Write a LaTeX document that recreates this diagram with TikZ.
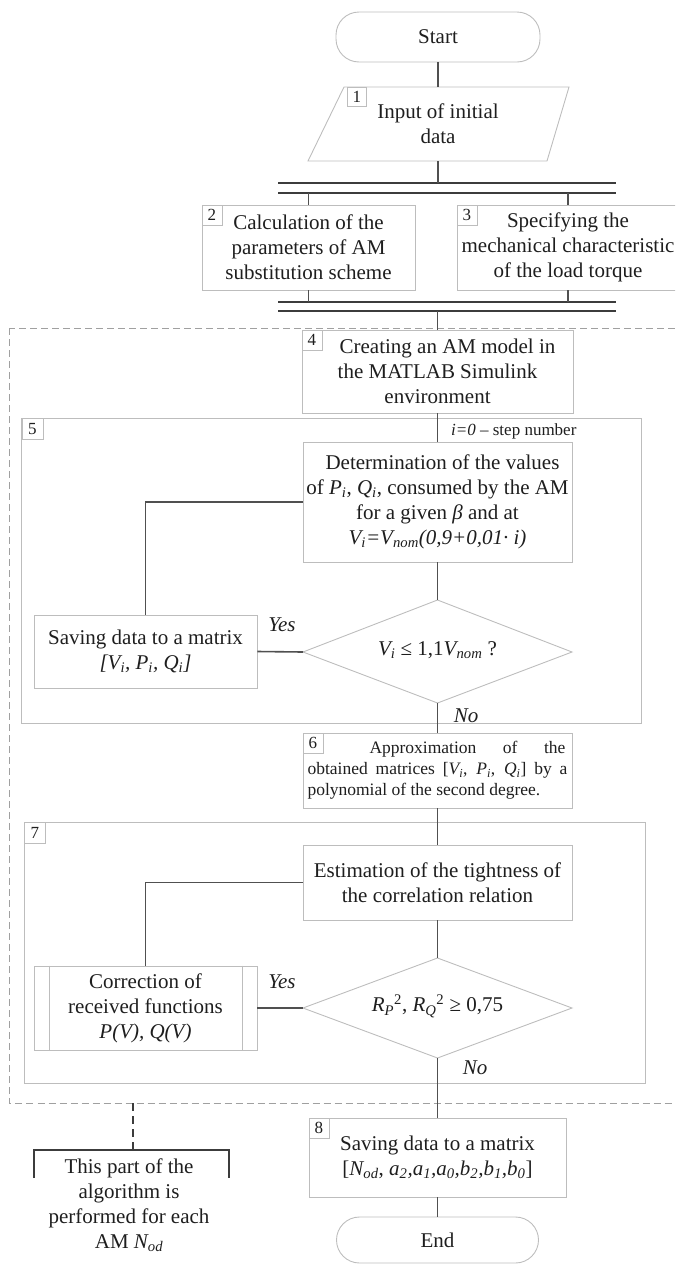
\documentclass[tikz,border=0pt]{standalone}
\usepackage{fontspec}
\setmainfont{Liberation Serif}
\usetikzlibrary{calc}
\definecolor{boxc}{HTML}{BDBDBD}
\definecolor{linec}{HTML}{505050}
\definecolor{dblc}{HTML}{3C3C3C}
\definecolor{dashc}{HTML}{A0A0A0}
\definecolor{txtc}{HTML}{1E1E1E}
\begin{document}
\begin{tikzpicture}[x=1pt,y=-1pt,
  every node/.style={font=\fontsize{21}{25}\selectfont, text=txtc, inner sep=0pt},
  box/.style={draw=boxc, line width=0.9pt, align=center},
  num/.style={draw=boxc, line width=0.8pt, anchor=north west, minimum width=20pt, minimum height=20pt, font=\fontsize{17}{17}\selectfont},
  conn/.style={draw=linec, line width=1.6pt},
  dbl/.style={draw=dblc, line width=2.6pt},
  term/.style={draw=boxc, line width=0.9pt, rounded corners=23pt},
  frame/.style={draw=boxc, line width=0.9pt},
  small/.style={font=\fontsize{17}{17}\selectfont}
]
\useasboundingbox (0,0) rectangle (675,1264);
\clip (0,0) rectangle (675,1264);

% Start
\node[term, minimum width=204pt, minimum height=50pt] (start) at (438,37) {Start};

% Input parallelogram
\coordinate (p1) at (344,87);
\coordinate (p2) at (569,87);
\coordinate (p3) at (547,161);
\coordinate (p4) at (308,161);
\draw[frame] (p1) -- (p2) -- (p3) -- (p4) -- cycle;
\coordinate (intop) at (438,87);
\coordinate (inbot) at (438,161);
\node[num, minimum width=19pt, minimum height=19pt] (n1) at (347,87) {1};
\node[align=center] (input) at (438,124) {Input of initial\\data};
\draw[conn] (start.south) -- (intop);

% first double line
\coordinate (d1a) at (278,183);
\coordinate (d1b) at (616,183);
\coordinate (d1c) at (278,193);
\coordinate (d1d) at (616,193);
\draw[dbl] (d1a) -- (d1b);
\draw[dbl] (d1c) -- (d1d);
\draw[conn] (inbot) -- (inbot |- d1a);

% boxes 2 and 3
\node[box, minimum width=213pt, minimum height=85pt] (b2) at (308.5,247.5) {Calculation of the\\parameters of AM\\substitution scheme};
\node[num] (n2) at (b2.north west) {2};
\node[box, minimum width=222pt, minimum height=85pt] (b3) at (568,247.5) {Specifying the\\mechanical characteristic\\of the load torque};
\node[num] (n3) at (b3.north west) {3};
\draw[conn] (b2.north |- d1c) -- (b2.north);
\draw[conn] (b3.north |- d1c) -- (b3.north);

% second double line
\coordinate (d2a) at (278,302);
\coordinate (d2b) at (616,302);
\coordinate (d2c) at (278,311);
\coordinate (d2d) at (616,311);
\draw[dbl] (d2a) -- (d2b);
\draw[dbl] (d2c) -- (d2d);
\draw[conn] (b2.south) -- (b2.south |- d2a);
\draw[conn] (b3.south) -- (b3.south |- d2a);

% dashed region
\draw[draw=dashc, line width=1pt, dash pattern=on 7pt off 4pt] (9.5,328) rectangle (700,1103);

% box 4
\node[box, minimum width=271pt, minimum height=83pt] (b4) at (437.5,371.5) {\hspace*{20pt}Creating an AM model in\\the MATLAB Simulink\\environment};
\node[num] (n4) at (b4.north west) {4};
\draw[conn] (b4.north |- d2c) -- (b4.north);

% frame 5
\draw[frame] (21.5,418) rectangle (641,723);
\node[num, minimum width=21pt, minimum height=21pt] (n5) at (21.5,418) {5};
\node[small, anchor=west] (step) at (451,431) {\textit{i=0} – step number};

\node[box, minimum width=269pt, minimum height=120pt] (det) at (437.5,502) {\hspace*{10pt}Determination of the values\\of \textit{P\textsubscript{i}}, \textit{Q\textsubscript{i}}, consumed by the AM\\for a given \textit{β} and at\\\textit{V\textsubscript{i}=V\textsubscript{nom}(0,9+0,01· i)}};
\draw[conn] (b4.south) -- (det.north);

\coordinate (t1) at (437.5,600);
\coordinate (r1) at (572,652);
\coordinate (bt1) at (437.5,703);
\coordinate (l1) at (303,652);
\draw[frame] (t1) -- (r1) -- (bt1) -- (l1) -- cycle;
\node (q1) at (437.5,650) {\textit{V\textsubscript{i}} ≤ 1,1\textit{V\textsubscript{nom}} ?};
\draw[conn] (det.south) -- (t1);

\node[box, minimum width=223pt, minimum height=73pt] (save) at (145.5,651.5) {Saving data to a matrix\\\textit{[V\textsubscript{i}, P\textsubscript{i}, Q\textsubscript{i}]}};
\draw[conn] (l1) -- (save.east);
\draw[conn] (save.north) |- (det.west);
\node (yes1) at (282,625) {\textit{Yes}};
\node (no1) at (466,716) {\textit{No}};

% box 6
\node[box, minimum width=269pt, minimum height=75pt, font=\fontsize{17.5}{21}\selectfont, align=left] (b6) at (437.5,770.5) {\hspace*{62pt}\makebox[196pt][s]{Approximation of the}\\\makebox[260pt][s]{obtained matrices [\textit{V\textsubscript{i}}, \textit{P\textsubscript{i}}, \textit{Q\textsubscript{i}}] by a}\\polynomial of the second degree.};
\node[num] (n6) at (b6.north west) {6};
\draw[conn] (bt1) -- (b6.north);

% frame 7
\draw[frame] (24,822) rectangle (645,1083);
\node[num, minimum width=21pt, minimum height=21pt] (n7) at (24,822) {7};

\node[box, minimum width=269pt, minimum height=75pt] (est) at (437.5,882.5) {Estimation of the tightness of\\the correlation relation};
\draw[conn] (b6.south) -- (est.north);

\coordinate (t2) at (437.5,958);
\coordinate (r2) at (572,1008);
\coordinate (bt2) at (437.5,1058);
\coordinate (l2) at (303,1008);
\draw[frame] (t2) -- (r2) -- (bt2) -- (l2) -- cycle;
\node (q2) at (437.5,1006) {\textit{R}\textsubscript{\textit{P}}\textsuperscript{2}, \textit{R}\textsubscript{\textit{Q}}\textsuperscript{2} ≥ 0,75};
\draw[conn] (est.south) -- (t2);

\node[box, minimum width=223pt, minimum height=84pt] (corr) at (145.5,1008) {Correction of\\received functions\\\textit{P(V), Q(V)}};
\draw[frame] ([xshift=15.5pt]corr.north west) -- ([xshift=15.5pt]corr.south west);
\draw[frame] ([xshift=-15.5pt]corr.north east) -- ([xshift=-15.5pt]corr.south east);
\draw[conn] (l2) -- (corr.east);
\draw[conn] (corr.north) |- (est.west);
\node (yes2) at (282,982) {\textit{Yes}};
\node (no2) at (475,1068) {\textit{No}};

% box 8
\node[box, minimum width=257pt, minimum height=79pt] (b8) at (437.5,1157.5) {Saving data to a matrix\\\relax[\textit{N\textsubscript{od}}, \textit{a\textsubscript{2},a\textsubscript{1},a\textsubscript{0},b\textsubscript{2},b\textsubscript{1},b\textsubscript{0}}]};
\node[num] (n8) at (b8.north west) {8};
\draw[conn] (bt2) -- (b8.north);

% End
\node[term, minimum width=202pt, minimum height=46pt] (end) at (437.5,1240) {End};
\draw[conn] (b8.south) -- (end.north);

% bracket note
\coordinate (bk) at (133,1103);
\coordinate (bkb) at (133,1150);
\draw[draw=dblc, line width=2pt, dash pattern=on 8pt off 5pt] (bk) -- (bkb);
\draw[draw=dblc, line width=2.6pt] (34,1178) -- (34,1150) -- (229,1150) -- (229,1178);
\node[align=center] (note) at (129,1205) {This part of the\\algorithm is\\performed for each\\AM \textit{N\textsubscript{od}}};
\end{tikzpicture}
\end{document}
